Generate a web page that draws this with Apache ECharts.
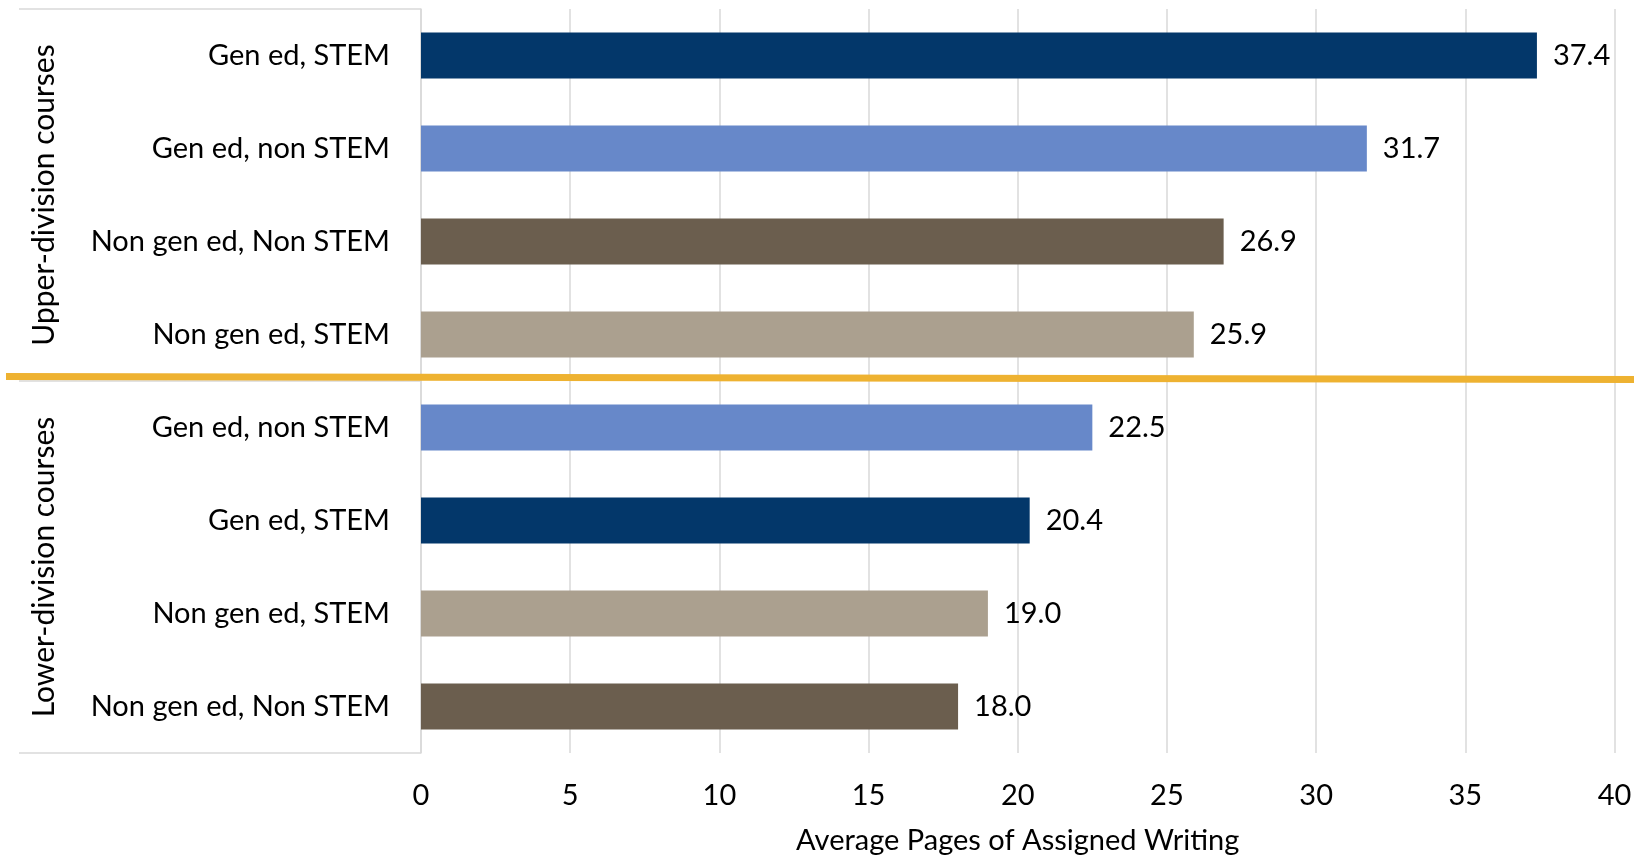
<!DOCTYPE html>
<html>
<head>
<meta charset="utf-8">
<script src="https://cdn.jsdelivr.net/npm/echarts@6/dist/echarts.min.js"></script>
<style>
  html, body { margin: 0; padding: 0; background: #ffffff; }
  #chart { width: 1646px; height: 857px; }
</style>
</head>
<body>
<div id="chart"></div>
<script>
// Course categories, top to bottom
const categories = [
  'Gen ed, STEM',
  'Gen ed, non STEM',
  'Non gen ed, Non STEM',
  'Non gen ed, STEM',
  'Gen ed, non STEM',
  'Gen ed, STEM',
  'Non gen ed, STEM',
  'Non gen ed, Non STEM'
];
// Average pages of assigned writing per category
const values = [37.4, 31.7, 26.9, 25.9, 22.5, 20.4, 19.0, 18.0];
// Course level groups (four categories each)
const groups = ['Upper-division courses', 'Lower-division courses'];
// X axis range and step
const xMin = 0;
const xMax = 40;
const xStep = 5;

const colorByCategory = {
  'Gen ed, STEM': '#03376A',
  'Gen ed, non STEM': '#6788C9',
  'Non gen ed, Non STEM': '#6B5E4E',
  'Non gen ed, STEM': '#ABA08F'
};

const FONT = 'Lato';
const FS = 29;
const gridColor = '#d9d9d9';

const chart = echarts.init(document.getElementById('chart'), null, { renderer: 'canvas' });

chart.setOption({
  backgroundColor: '#ffffff',
  animation: false,
  textStyle: { fontFamily: FONT, color: '#000' },
  grid: {
    left: 421, right: 31.5, top: 9, bottom: 104,
    containLabel: false,
    outerBoundsMode: 'none'
  },
  xAxis: {
    type: 'value',
    min: xMin,
    max: xMax,
    interval: xStep,
    axisLine: { show: false },
    axisTick: { show: false },
    splitLine: { show: true, lineStyle: { color: gridColor, width: 1.5 } },
    axisLabel: { fontFamily: FONT, fontSize: FS, color: '#000', margin: 28 },
    name: 'Average Pages of Assigned Writing',
    nameLocation: 'middle',
    nameGap: 73,
    nameTextStyle: { fontFamily: FONT, fontSize: FS, color: '#000' }
  },
  yAxis: [
    {
      type: 'category',
      inverse: true,
      data: categories,
      axisLine: { show: true, lineStyle: { color: gridColor, width: 1.5 } },
      axisTick: { show: false },
      axisLabel: { fontFamily: FONT, fontSize: FS, color: '#000', margin: 31, interval: 0 }
    },
    {
      type: 'category',
      inverse: true,
      position: 'left',
      offset: 0,
      data: groups,
      axisLine: { show: false },
      axisTick: { show: true, length: 402, lineStyle: { color: gridColor, width: 1.5 } },
      axisLabel: {
        fontFamily: FONT, fontSize: 30, color: '#000',
        rotate: 90, margin: 362, interval: 0, hideOverlap: false
      }
    }
  ],
  series: [
    {
      type: 'bar',
      yAxisIndex: 0,
      barWidth: 46,
      data: values.map((v, i) => ({
        value: v,
        itemStyle: { color: colorByCategory[categories[i]] }
      })),
      label: {
        show: true,
        position: 'right',
        distance: 16,
        fontFamily: FONT,
        fontSize: FS,
        color: '#000',
        formatter: p => p.value.toFixed(1)
      }
    }
  ]
});

// Separator between the upper- and lower-division groups
const yA = chart.convertToPixel({ yAxisIndex: 0 }, 3);
const yB = chart.convertToPixel({ yAxisIndex: 0 }, 4);
const ySep = (yA + yB) / 2;
chart.setOption({
  graphic: [{
    type: 'line',
    z: 100,
    shape: { x1: 6, y1: ySep - 4.5, x2: 1634, y2: ySep - 1.5 },
    style: { stroke: '#EEB231', lineWidth: 7 }
  }]
});
</script>
</body>
</html>
